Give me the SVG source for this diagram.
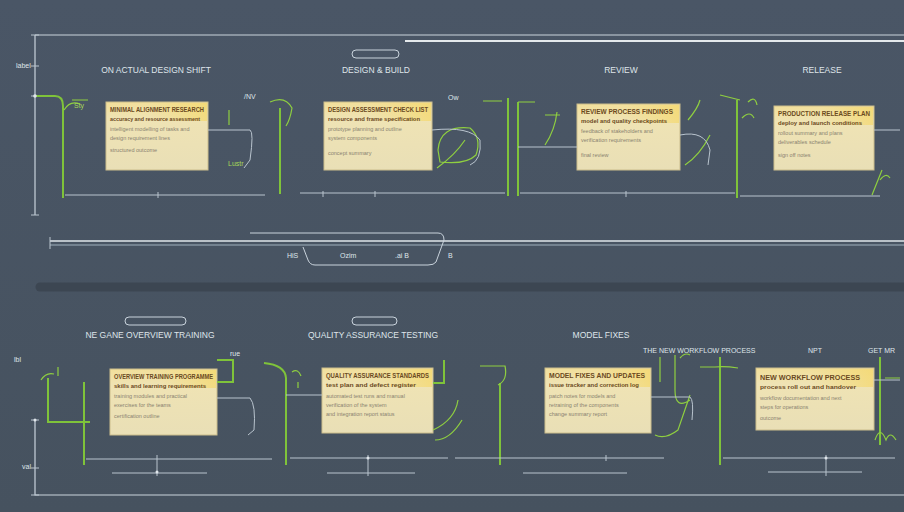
<svg xmlns="http://www.w3.org/2000/svg" width="904" height="512" viewBox="0 0 904 512">
<defs>
<linearGradient id="note" x1="0" y1="0" x2="0" y2="1">
<stop offset="0" stop-color="#f2df9a"/><stop offset="0.25" stop-color="#efe3b4"/><stop offset="1" stop-color="#e9dfb6"/>
</linearGradient>
<linearGradient id="glow" x1="0" y1="0" x2="1" y2="0">
<stop offset="0" stop-color="#f5d86a" stop-opacity="0"/><stop offset="1" stop-color="#f5d86a" stop-opacity="0.7"/>
</linearGradient>
<linearGradient id="bg" x1="0" y1="0" x2="0" y2="1">
<stop offset="0" stop-color="#4a5666"/><stop offset="1" stop-color="#46525f"/>
</linearGradient>
<style>
.ax{stroke:#c9d3dc;stroke-width:1.2;fill:none}
.lt{stroke:#b9c4ce;stroke-width:1;fill:none}
.gr{stroke:#7fc33a;stroke-width:2;fill:none}
.grt{stroke:#8fcf40;stroke-width:1.2;fill:none}
.note{fill:url(#note);stroke:#cbbd8c;stroke-width:1}
.glow{fill:url(#glow)}
.t{font-family:"Liberation Sans",Arial,sans-serif;fill:#dfe5ea;font-size:8.5px;text-anchor:middle}
.ts{font-family:"Liberation Sans",Arial,sans-serif;fill:#dfe5ea;font-size:7px}
.tg{font-family:"Liberation Sans",Arial,sans-serif;fill:#a6d85a;font-size:7px}
.nh{font-family:"Liberation Sans",Arial,sans-serif;fill:#6b4a1e;font-size:6.5px;font-weight:bold}
.ns{font-family:"Liberation Sans",Arial,sans-serif;fill:#6b4a1e;font-size:5.5px;font-weight:bold}
.nb{font-family:"Liberation Sans",Arial,sans-serif;fill:#8a8270;font-size:5.5px}
.pill{fill:none;stroke:#c9d3dc;stroke-width:1}
</style>
</defs>
<rect width="904" height="512" fill="url(#bg)"/>

<g id="axes">
<path class="ax" d="M35 35 H904"/>
<path d="M405 41 H904" stroke="#e4e9ec" stroke-width="2.2"/>
<path class="ax" d="M35 35 V215"/>
<path class="lt" d="M31 35 H39 M31 66 H39 M31 96 H39 M31 215 H39"/>
<text class="ts" x="16" y="68">label</text>
<path class="ax" d="M35 420 V495 H904"/>
<path class="lt" d="M31 420 H39 M31 468 H39 M31 495 H39"/>
<text class="ts" x="14" y="362">lbl</text>
<text class="ts" x="22" y="469">val</text>
</g>

<g id="divider">
<path d="M50 241 H904" stroke="#dfe6ea" stroke-width="1.3"/>
<path d="M50 245 H904" stroke="#9fb0bd" stroke-width="1"/>
<path d="M50 237 L50 249" class="lt"/>
<path d="M250 233 H438 Q444 233 444 240 L436 262 Q434 265 428 265 H315 Q310 265 308 260 L303 247" class="pill"/>
<text class="ts" x="287" y="258">HiS</text>
<text class="ts" x="340" y="258">Ozim</text>
<text class="ts" x="395" y="258">.ai B</text>
<text class="ts" x="448" y="258">B</text>
<path d="M40 287 H904" stroke="#3c4652" stroke-width="9" stroke-linecap="round"/>
</g>

<g id="stage1">
<text class="t" x="156" y="73">ON ACTUAL DESIGN SHIFT</text>
<rect class="note" x="106" y="102" width="102" height="68"/>
<rect class="glow" x="150" y="103" width="57" height="18"/>
<text class="nh" x="110" y="112" textLength="94" lengthAdjust="spacingAndGlyphs">MINIMAL ALIGNMENT RESEARCH</text>
<text class="ns" x="110" y="121" textLength="90" lengthAdjust="spacingAndGlyphs">accuracy and resource assessment</text>
<text class="nb" x="110" y="131">intelligent modelling of tasks and</text>
<text class="nb" x="110" y="140">design requirement lines</text>
<text class="nb" x="110" y="152">structured outcome</text>
</g>
<g id="stage2">
<rect class="pill" x="352" y="50" width="47" height="8" rx="4"/>
<text class="t" x="376" y="73">DESIGN &amp; BUILD</text>
<rect class="note" x="324" y="102" width="108" height="68"/>
<rect class="glow" x="370" y="103" width="61" height="18"/>
<text class="nh" x="328" y="112" textLength="100" lengthAdjust="spacingAndGlyphs">DESIGN ASSESSMENT CHECK LIST</text>
<text class="ns" x="328" y="121" textLength="92" lengthAdjust="spacingAndGlyphs">resource and frame specification</text>
<text class="nb" x="328" y="131">prototype planning and outline</text>
<text class="nb" x="328" y="140">system components</text>
<text class="nb" x="328" y="155">concept summary</text>
</g>
<g id="stage3">
<text class="t" x="621" y="73">REVIEW</text>
<rect class="note" x="577" y="104" width="103" height="66"/>
<rect class="glow" x="625" y="105" width="54" height="18"/>
<text class="nh" x="581" y="114" textLength="92" lengthAdjust="spacingAndGlyphs">REVIEW PROCESS FINDINGS</text>
<text class="ns" x="581" y="123" textLength="86" lengthAdjust="spacingAndGlyphs">model and quality checkpoints</text>
<text class="nb" x="581" y="133">feedback of stakeholders and</text>
<text class="nb" x="581" y="142">verification requirements</text>
<text class="nb" x="581" y="157">final review</text>
</g>
<g id="stage4">
<text class="t" x="822" y="73">RELEASE</text>
<rect class="note" x="774" y="106" width="100" height="64"/>
<rect class="glow" x="820" y="107" width="53" height="18"/>
<text class="nh" x="778" y="116" textLength="92" lengthAdjust="spacingAndGlyphs">PRODUCTION RELEASE PLAN</text>
<text class="ns" x="778" y="125" textLength="84" lengthAdjust="spacingAndGlyphs">deploy and launch conditions</text>
<text class="nb" x="778" y="135">rollout summary and plans</text>
<text class="nb" x="778" y="144">deliverables schedule</text>
<text class="nb" x="778" y="157">sign off notes</text>
</g>

<g id="stage5">
<rect class="pill" x="125" y="317" width="61" height="8" rx="4"/>
<text class="t" x="150" y="338">NE GANE OVERVIEW TRAINING</text>
<rect class="note" x="110" y="369" width="107" height="66"/>
<rect class="glow" x="160" y="370" width="56" height="18"/>
<text class="nh" x="114" y="379" textLength="99" lengthAdjust="spacingAndGlyphs">OVERVIEW TRAINING PROGRAMME</text>
<text class="ns" x="114" y="388" textLength="92" lengthAdjust="spacingAndGlyphs">skills and learning requirements</text>
<text class="nb" x="114" y="398">training modules and practical</text>
<text class="nb" x="114" y="407">exercises for the teams</text>
<text class="nb" x="114" y="418">certification outline</text>
</g>
<g id="stage6">
<rect class="pill" x="352" y="317" width="45" height="8" rx="4"/>
<text class="t" x="373" y="338">QUALITY ASSURANCE TESTING</text>
<rect class="note" x="322" y="368" width="111" height="65"/>
<rect class="glow" x="370" y="369" width="62" height="18"/>
<text class="nh" x="326" y="378" textLength="103" lengthAdjust="spacingAndGlyphs">QUALITY ASSURANCE STANDARDS</text>
<text class="ns" x="326" y="387" textLength="90" lengthAdjust="spacingAndGlyphs">test plan and defect register</text>
<text class="nb" x="326" y="398">automated test runs and manual</text>
<text class="nb" x="326" y="407">verification of the system</text>
<text class="nb" x="326" y="416">and integration report status</text>
</g>
<g id="stage7">
<text class="t" x="601" y="338">MODEL FIXES</text>
<rect class="note" x="545" y="368" width="106" height="65"/>
<rect class="glow" x="595" y="369" width="55" height="18"/>
<text class="nh" x="549" y="378" textLength="96" lengthAdjust="spacingAndGlyphs">MODEL FIXES AND UPDATES</text>
<text class="ns" x="549" y="387" textLength="90" lengthAdjust="spacingAndGlyphs">issue tracker and correction log</text>
<text class="nb" x="549" y="398">patch notes for models and</text>
<text class="nb" x="549" y="407">retraining of the components</text>
<text class="nb" x="549" y="416">change summary report</text>
<text class="ts" x="643" y="353">THE NEW WORKFLOW PROCESS</text>
<text class="ts" x="808" y="353">NPT</text>
<text class="ts" x="868" y="353">GET MR</text>
</g>
<g id="stage8">
<rect class="note" x="756" y="368" width="118" height="62"/>
<rect class="glow" x="810" y="369" width="63" height="18"/>
<text class="nh" x="760" y="380" textLength="100" lengthAdjust="spacingAndGlyphs">NEW WORKFLOW PROCESS</text>
<text class="ns" x="760" y="389" textLength="96" lengthAdjust="spacingAndGlyphs">process roll out and handover</text>
<text class="nb" x="760" y="400">workflow documentation and next</text>
<text class="nb" x="760" y="409">steps for operations</text>
<text class="nb" x="760" y="420">outcome</text>
</g>

<g id="connectors">
<path class="gr" d="M35 96 H55 Q63 96 63 106 V198"/>
<path class="grt" d="M64 110 Q70 100 80 104 M72 100 H88"/>
<text class="tg" x="74" y="108">Sty</text>
<path class="gr" d="M280 108 V194"/>
<path class="grt" d="M270 102 Q285 95 292 108 Q290 120 286 126"/>
<text class="ts" x="244" y="99">/NV</text>
<path class="gr" d="M508 98 V196"/>
<path class="gr" d="M518 102 V196"/>
<path class="grt" d="M483 101 H502 M518 102 H535"/>
<path class="grt" d="M545 145 Q555 130 557 112 M545 115 H560"/>
<path class="gr" d="M737 100 V198"/>
<path class="grt" d="M720 95 L740 100 M748 102 Q755 95 757 105 M742 118 Q750 110 754 118"/>
<path class="grt" d="M688 120 Q698 108 700 100 M685 165 Q700 155 710 135"/>
<path class="grt" d="M872 195 Q878 180 882 170 M880 180 Q886 172 890 178"/>
<path class="grt" d="M437 168 Q455 155 465 140 M438 150 Q440 125 470 128 Q482 138 476 155 Q466 165 440 162 Z"/>
<text class="tg" x="228" y="166">Lustr</text>
<text class="ts" x="448" y="100">Ow</text>
<path class="grt" d="M229 110 V125"/>
<path class="lt" d="M208 130 H250 Q254 132 250 160 L244 168"/>
<path class="lt" d="M432 130 Q470 126 480 140 Q482 160 470 165"/>
<path class="lt" d="M680 135 Q705 130 710 150 L708 165"/>
<path class="lt" d="M518 147 H577"/>
<path class="lt" d="M874 130 H900"/>
<path class="lt" d="M65 195 H265"/>
<path class="lt" d="M300 193 H505"/>
<path class="lt" d="M520 193 H735"/>
<path class="lt" d="M740 196 H880"/>
<path class="lt" d="M158 192 V198 M323 191 V197 M375 191 V197 M626 191 V197"/>
<path class="gr" d="M48 378 V422 H90"/>
<path class="grt" d="M41 380 Q46 372 54 374 M58 367 V376"/>
<path class="gr" d="M84 382 V465"/>
<path class="gr" d="M217 360 H233 V382 H217"/>
<text class="ts" x="230" y="356">rue</text>
<path class="gr" d="M264 363 Q285 365 286 378 V465"/>
<path class="grt" d="M292 372 Q298 368 301 376 M298 382 V388"/>
<path class="gr" d="M444 360 V383 H433"/>
<path class="grt" d="M433 430 Q455 420 458 400 M435 440 Q450 440 462 420"/>
<path class="gr" d="M500 383 V465"/>
<path class="grt" d="M480 366 H505 Q508 380 498 385"/>
<path class="grt" d="M660 357 V382 M675 355 V390 Q675 410 690 400 M655 435 Q665 440 678 430 L690 395"/>
<path class="grt" d="M680 358 Q685 352 690 355"/>
<path class="gr" d="M720 357 V465"/>
<path class="grt" d="M700 367 H715 Q725 366 738 368"/>
<path class="gr" d="M880 357 V445"/>
<path class="grt" d="M875 440 Q880 425 886 440 Q890 430 896 440 M885 378 H900"/>
<path class="lt" d="M217 398 H250 Q256 405 254 430 L248 435"/>
<path class="lt" d="M286 395 H322"/>
<path class="lt" d="M651 397 H690 Q694 400 692 420"/>
<path class="lt" d="M874 380 H900"/>
<path class="lt" d="M86 459 H272 M290 458 H448 M455 458 H664 M723 458 H895"/>
<path class="lt" d="M112 473 H207 M327 473 H415 M523 473 H627 M768 472 H862"/>
<path class="lt" d="M157 455 V476 M368 455 V476 M606 455 V461 M826 455 V476"/>
<circle cx="157" cy="472" r="1.5" fill="#dfe5ea"/>
<circle cx="368" cy="458" r="1.5" fill="#dfe5ea"/>
<circle cx="826" cy="458" r="1.5" fill="#dfe5ea"/>
<circle cx="35" cy="420" r="1.5" fill="#dfe5ea"/>
<circle cx="35" cy="96" r="1.8" fill="#dfe5ea"/>
</g>
</svg>
